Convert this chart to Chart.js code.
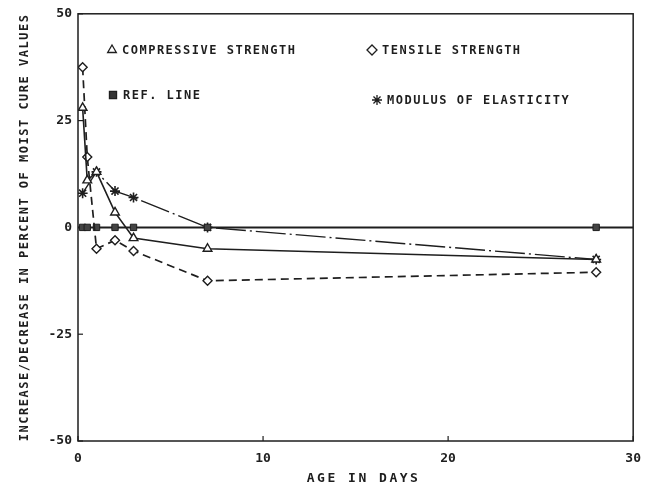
<!DOCTYPE html>
<html>
<head>
<meta charset="utf-8">
<script src="https://cdn.jsdelivr.net/npm/chart.js@4"></script>
<style>
  html, body { margin: 0; padding: 0; background: #fff; }
</style>
</head>
<body>
<canvas id="ageChart" width="651" height="487"></canvas>
<script>
// values
const ages = [0.25, 0.5, 1, 2, 3, 7, 28];
const compressive = [28, 11, 13, 3.5, -2.5, -5, -7.5];
const tensile = [37.5, 16.5, -5, -3, -5.5, -12.5, -10.5];
const refLine = [0, 0, 0, 0, 0, 0, 0];
const modulus = [8, null, 13, 8.5, 7, 0, -7.5];
const xTicks = [0, 10, 20, 30];
const yTicks = [-50, -25, 0, 25, 50];
const xTitle = "AGE IN DAYS";
const yTitle = "INCREASE/DECREASE IN PERCENT OF MOIST CURE VALUES";

const ink = "#1e1e1e";
const plotFont = "DejaVu Sans Mono";

function toPoints(values) {
  return ages.map((a, i) => ({ x: a, y: values[i] }));
}

//legend entries drawn inside the plot area
const legendItems = [
  { text: "COMPRESSIVE STRENGTH", style: "triangle", fill: "#fff", x: 112, y: 50 },
  { text: "TENSILE STRENGTH", style: "rectRot", fill: "#fff", x: 372, y: 50 },
  { text: "REF. LINE", style: "rect", fill: "#333", x: 113, y: 95 },
  { text: "MODULUS OF ELASTICITY", style: "star", fill: "#333", x: 377, y: 100 }
];

//frame, zero line, inward ticks, axis titles and legend
const framePlugin = {
  id: "framePlugin",
  beforeDatasetsDraw(chart) {
    const { ctx, chartArea: a, scales } = chart;
    ctx.save();
    ctx.strokeStyle = ink;
    ctx.lineWidth = 2;
    const y0 = scales.y.getPixelForValue(0);
    ctx.beginPath();
    ctx.moveTo(a.left, y0);
    ctx.lineTo(a.right, y0);
    ctx.stroke();

    ctx.lineWidth = 1.5;
    ctx.strokeRect(a.left, a.top, a.right - a.left, a.bottom - a.top);

    ctx.lineWidth = 1.2;
    xTicks.forEach(v => {
      const px = scales.x.getPixelForValue(v);
      ctx.beginPath();
      ctx.moveTo(px, a.bottom);
      ctx.lineTo(px, a.bottom - 5);
      ctx.stroke();
    });
    yTicks.forEach(v => {
      const py = scales.y.getPixelForValue(v);
      ctx.beginPath();
      ctx.moveTo(a.left, py);
      ctx.lineTo(a.left + 5, py);
      ctx.stroke();
    });
    ctx.restore();
  },
  afterDraw(chart) {
    const { ctx, chartArea: a } = chart;
    ctx.save();
    ctx.fillStyle = ink;
    ctx.textBaseline = "middle";
    ctx.textAlign = "center";

    //axis titles
    ctx.font = "bold 13px " + plotFont;
    ctx.letterSpacing = "2.5px";
    ctx.fillText(xTitle, (a.left + a.right) / 2 + 8, 479);

    ctx.save();
    ctx.font = "bold 12px " + plotFont;
    ctx.letterSpacing = "1.5px";
    ctx.translate(25, (a.top + a.bottom) / 2);
    ctx.rotate(-Math.PI / 2);
    ctx.fillText(yTitle, 0, 0);
    ctx.restore();

    //legend
    ctx.textAlign = "left";
    ctx.font = "bold 12px " + plotFont;
    ctx.letterSpacing = "1.5px";
    legendItems.forEach(item => {
      ctx.save();
      ctx.strokeStyle = ink;
      ctx.fillStyle = item.fill;
      ctx.lineWidth = 1.3;
      Chart.helpers.drawPoint(ctx, {
        pointStyle: item.style, radius: 5, rotation: 0, borderWidth: 1.3
      }, item.x, item.y);
      ctx.restore();
      ctx.fillText(item.text, item.x + 10, item.y + 1);
    });
    ctx.restore();
  }
};

const ctx = document.getElementById("ageChart").getContext("2d");

new Chart(ctx, {
  type: "scatter",
  data: {
    datasets: [
      {
        label: "Compressive Strength",
        data: toPoints(compressive),
        showLine: true,
        borderColor: ink,
        borderWidth: 1.6,
        pointStyle: "triangle",
        pointRadius: 5,
        pointBackgroundColor: "#fff",
        pointBorderColor: ink,
        pointBorderWidth: 1.4
      },
      {
        label: "Tensile Strength",
        data: toPoints(tensile),
        showLine: true,
        borderColor: ink,
        borderWidth: 1.7,
        borderDash: [8, 5],
        pointStyle: "rectRot",
        pointRadius: 4.5,
        pointBackgroundColor: "#fff",
        pointBorderColor: ink,
        pointBorderWidth: 1.4
      },
      {
        label: "Ref. Line",
        data: toPoints(refLine),
        showLine: false,
        pointStyle: "rect",
        pointRadius: 4.5,
        pointBackgroundColor: "#444",
        pointBorderColor: ink,
        pointBorderWidth: 1
      },
      {
        label: "Modulus of Elasticity",
        data: toPoints(modulus),
        showLine: true,
        spanGaps: true,
        borderColor: ink,
        borderWidth: 1.4,
        borderDash: [30, 4, 2, 4],
        pointStyle: "star",
        pointRadius: 5,
        pointBorderColor: ink,
        pointBorderWidth: 1.6
      }
    ]
  },
  options: {
    responsive: false,
    animation: false,
    layout: { padding: { top: 13, right: 16, left: 0, bottom: 0 } },
    plugins: {
      legend: { display: false },
      tooltip: { enabled: false }
    },
    scales: {
      x: {
        type: "linear",
        min: 0,
        max: 30,
        afterBuildTicks: scale => { scale.ticks = xTicks.map(v => ({ value: v })); },
        afterFit: scale => { scale.height = 46; },
        grid: { display: false, drawTicks: false },
        border: { display: false },
        ticks: {
          color: ink,
          padding: 10,
          font: { family: plotFont, size: 13, weight: "bold" }
        }
      },
      y: {
        min: -50,
        max: 50,
        afterBuildTicks: scale => { scale.ticks = yTicks.map(v => ({ value: v })); },
        afterFit: scale => { scale.width = 78; },
        grid: { display: false, drawTicks: false },
        border: { display: false },
        ticks: {
          color: ink,
          padding: 6,
          font: { family: plotFont, size: 13, weight: "bold" }
        }
      }
    }
  },
  plugins: [framePlugin]
});
</script>
</body>
</html>
